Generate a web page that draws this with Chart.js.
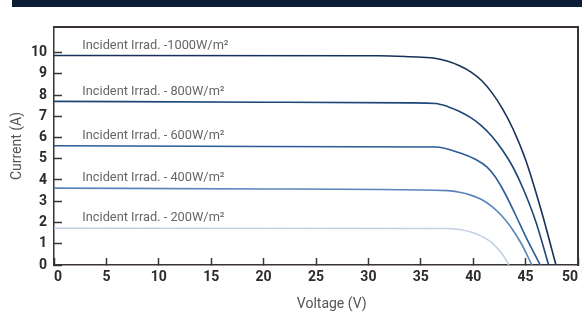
<!DOCTYPE html>
<html>
<head>
<meta charset="utf-8">
<script src="https://cdn.jsdelivr.net/npm/chart.js@4.4.0/dist/chart.umd.min.js"></script>
<style>
	html, body { margin: 0; padding: 0; background: #fff; }
	#wrap { position: relative; width: 582px; height: 313px; }
	#faixa { position: absolute; left: 12px; top: 0; width: 570px; height: 7px; background: #0c1c36; }
	/* moldura de cima e da direita da area do grafico */
	#moldura { position: absolute; z-index: 2; left: 54px; top: 26px; width: 525px; height: 240px; box-sizing: border-box;
		border-top: 2px solid #3a3234; border-right: 2px solid #3a3234; pointer-events: none; }
	#grafico { position: relative; z-index: 1; }
</style>
</head>
<body>
<div id="wrap">
	<div id="faixa"></div>
	<canvas id="grafico"></canvas>
	<div id="moldura"></div>
</div>
<script>
// dados (tensao em V, corrente em A)
const v1000 = [0, 31, 34, 36.2, 37.5, 38.7, 39.8, 40.8, 41.8, 42.8, 43.8, 45.0, 46.5, 47.9];
const i1000 = [9.86, 9.85, 9.80, 9.74, 9.60, 9.38, 9.08, 8.68, 8.10, 7.35, 6.40, 4.95, 2.55, 0];
const v800 = [0, 20, 34, 36.4, 37.6, 38.7, 39.8, 40.8, 41.8, 42.8, 43.8, 44.8, 46.0, 47.2];
const i800 = [7.70, 7.66, 7.63, 7.60, 7.45, 7.22, 6.92, 6.55, 6.05, 5.40, 4.60, 3.55, 2.00, 0];
const v600 = [0, 20, 36.4, 38.7, 40.3, 41.3, 42.1, 43.0, 44.0, 45.0, 46.4];
const i600 = [5.61, 5.58, 5.55, 5.28, 4.95, 4.62, 4.15, 3.40, 2.40, 1.35, 0];
const v400 = [0, 20, 37.6, 38.7, 39.7, 40.8, 41.8, 42.7, 43.5, 44.6, 45.6];
const i400 = [3.62, 3.58, 3.50, 3.42, 3.30, 3.08, 2.75, 2.33, 1.85, 1.00, 0];
const v200 = [0, 37.2, 38.7, 40.0, 41.0, 41.8, 42.6, 43.0, 43.4];
const i200 = [1.73, 1.72, 1.67, 1.52, 1.30, 1.04, 0.62, 0.35, 0];

const rotulos = [
	'Incident Irrad. -1000W/m²',
	'Incident Irrad. - 800W/m²',
	'Incident Irrad. - 600W/m²',
	'Incident Irrad. - 400W/m²',
	'Incident Irrad. - 200W/m²'
];
const cores = ['#17325a', '#1d4677', '#2a5d96', '#5b84bb', '#c3cfe3'];
const posRotulo = 2.7; // tensao onde comeca o texto de cada curva
const tituloX = 'Voltage (V)';
const posTituloX = 26.5; // centro do titulo do eixo x, em volts

const corEixo = '#3a3234';
const fonte = 'Roboto, "DejaVu Sans", sans-serif';

function pontos(vs, is) {
	return vs.map((v, k) => ({ x: v, y: is[k] }));
}

const series = [
	pontos(v1000, i1000),
	pontos(v800, i800),
	pontos(v600, i600),
	pontos(v400, i400),
	pontos(v200, i200)
];

// textos das curvas e titulo do eixo x
const textos = {
	id: 'textos',
	afterDraw(chart) {
		const ctx = chart.ctx;
		const x = chart.scales.x;
		const y = chart.scales.y;
		ctx.save();
		ctx.font = '12.8px ' + fonte;
		ctx.fillStyle = '#666';
		ctx.textBaseline = 'middle';
		ctx.textAlign = 'left';
		chart.data.datasets.forEach((ds, k) => {
			ctx.fillText(rotulos[k], x.getPixelForValue(posRotulo), y.getPixelForValue(ds.data[0].y) - 10);
		});
		ctx.font = '14px ' + fonte;
		ctx.fillStyle = '#555';
		ctx.textAlign = 'center';
		ctx.fillText(tituloX, x.getPixelForValue(posTituloX), 304);
		ctx.restore();
	}
};

new Chart(document.getElementById('grafico'), {
	type: 'line',
	data: {
		datasets: series.map((s, k) => ({
			label: rotulos[k],
			data: s,
			borderColor: cores[k],
			borderWidth: 1.6,
			pointRadius: 0,
			fill: false,
			cubicInterpolationMode: 'monotone'
		}))
	},
	options: {
		responsive: true,
		maintainAspectRatio: false,
		animation: false,
		layout: { padding: { top: 27, right: 4, bottom: 0, left: 0 } },
		plugins: {
			legend: { display: false },
			tooltip: { enabled: false }
		},
		scales: {
			x: {
				type: 'linear',
				min: 0,
				max: 50,
				grid: { display: true, drawOnChartArea: false, drawTicks: true, tickLength: -7, tickColor: corEixo, tickWidth: 1.5 },
				border: { display: true, color: corEixo, width: 1.5 },
				ticks: {
					stepSize: 5,
					align: 'inner',
					padding: 11,
					color: '#2e2a2b',
					font: { family: fonte, size: 14, weight: 'bold' }
				},
				afterFit(s) {
					s.height = 48;
					s.paddingLeft = 0;
					s.paddingRight = 0;
				}
			},
			y: {
				type: 'linear',
				min: 0,
				max: 11.2,
				grid: { display: true, drawOnChartArea: false, drawTicks: true, tickLength: -8, tickColor: corEixo, tickWidth: 1.5 },
				border: { display: true, color: corEixo, width: 1.5 },
				ticks: {
					stepSize: 1,
					padding: 15,
					color: '#2e2a2b',
					font: { family: fonte, size: 14, weight: 'bold' }
				},
				afterBuildTicks(a) {
					a.ticks = a.ticks.filter(t => t.value <= 10);
				},
				title: {
					display: true,
					text: 'Current (A)',
					color: '#555',
					font: { family: fonte, size: 14 },
					padding: { top: 9, bottom: 0 }
				},
				afterFit(s) {
					s.width = 54;
					s.paddingTop = 0;
					s.paddingBottom = 0;
				}
			}
		}
	},
	plugins: [textos]
});
</script>
</body>
</html>
